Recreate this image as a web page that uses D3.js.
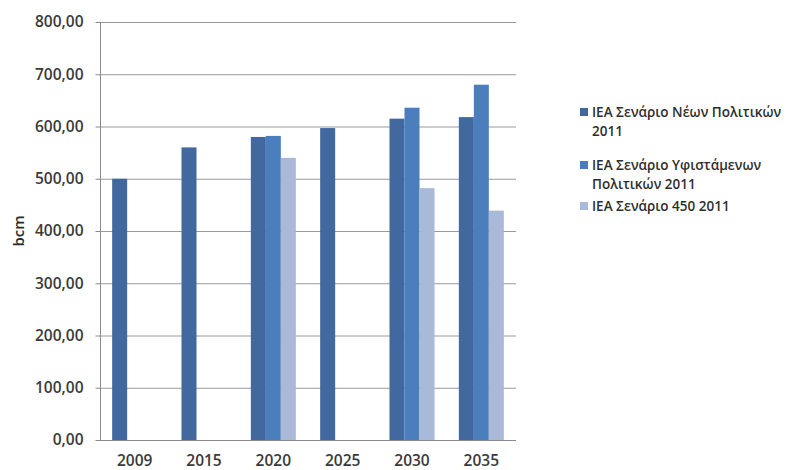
<!DOCTYPE html>
<html><head><meta charset="utf-8">
<script src="https://cdn.jsdelivr.net/npm/d3@7"></script>
<style>body{margin:0;background:#fff}svg{display:block}</style>
</head><body>
<script>
const categories = ["2009","2015","2020","2025","2030","2035"];
const seriesNames = ["ΙΕΑ Σενάριο Νέων Πολιτικών 2011","ΙΕΑ Σενάριο Υφιστάμενων Πολιτικών 2011","ΙΕΑ Σενάριο 450 2011"];
const newPolicies = [500, 560, 580, 597, 615, 618];
const currentPolicies = [null, null, 582, null, 636, 680];
const scenario450 = [null, null, 540, null, 482, 439];
const yTicks = [0,100,200,300,400,500,600,700,800];
const colors = ["#41699f","#4b7ebd","#a9b9d8"];
const legendLines = [["ΙΕΑ Σενάριο Νέων Πολιτικών","2011"],["ΙΕΑ Σενάριο Υφιστάμενων","Πολιτικών 2011"],["ΙΕΑ Σενάριο 450 2011"]];

const W=805,H=470;
const svg=d3.select("body").append("svg").attr("width",W).attr("height",H);
const font="Open Sans";
const x=d3.scaleBand().domain(categories).range([100,516]).paddingInner(0).paddingOuter(0);
const y=d3.scaleLinear().domain([0,800]).range([440,22]);
const inner=d3.scaleBand().domain([0,1,2]).range([0,45]);
const fmt=d=>d3.format(".2f")(d).replace(".",",");

// grid
svg.append("g").selectAll("line").data(yTicks.filter(d=>d>0)).join("line")
  .attr("x1",100).attr("x2",516).attr("y1",d=>y(d)+0.5).attr("y2",d=>y(d)+0.5)
  .attr("stroke","#9a9a9a").attr("stroke-width",1);

const data=[newPolicies,currentPolicies,scenario450];
data.forEach((s,i)=>{
  svg.append("g").selectAll("rect").data(categories.map((c,j)=>({c,v:s[j]})).filter(d=>d.v!=null)).join("rect")
    .attr("x",d=>x(d.c)+x.bandwidth()/2-22.5+inner(i))
    .attr("width",inner.bandwidth())
    .attr("y",d=>y(d.v)).attr("height",d=>y(0)-y(d.v))
    .attr("fill",colors[i]);
});

// y axis
const ya=svg.append("g").attr("transform","translate(100.5,0)")
  .call(d3.axisLeft(y).tickValues(yTicks).tickFormat(fmt).tickSize(5).tickPadding(12));
ya.select(".domain").attr("stroke","#8a8a8a").attr("d","M0,22V440.5");
ya.selectAll(".tick line").attr("stroke","#8a8a8a");
ya.selectAll("text").attr("font-family",font).attr("font-size",15.5).attr("font-weight",600).attr("fill","#3a3a3a");

// x axis
const xa=svg.append("g").attr("transform","translate(0,440.5)")
  .call(d3.axisBottom(x).tickSize(0).tickPadding(14));
xa.select(".domain").attr("stroke","#8a8a8a").attr("d","M100,0H516");
xa.selectAll("text").attr("font-family",font).attr("font-size",15.5).attr("font-weight",600).attr("fill","#3a3a3a");

// y title
svg.append("text").attr("transform","translate(24,231) rotate(-90)").attr("text-anchor","middle")
  .attr("font-family",font).attr("font-size",15).attr("font-weight",600).attr("fill","#2a2a2a").text("bcm");

// legend
const legY=[112,165,206];
legendLines.forEach((lines,i)=>{
  const g=svg.append("g");
  g.append("rect").attr("x",580).attr("y",legY[i]-4).attr("width",8).attr("height",8).attr("fill",colors[i]);
  lines.forEach((t,k)=>{
    g.append("text").attr("x",592).attr("y",legY[i]+k*18.8).attr("dy","0.35em")
      .attr("font-family",font).attr("font-size",13.5).attr("font-weight",600).attr("fill","#2e2e2e").text(t);
  });
});
</script>
</body></html>
